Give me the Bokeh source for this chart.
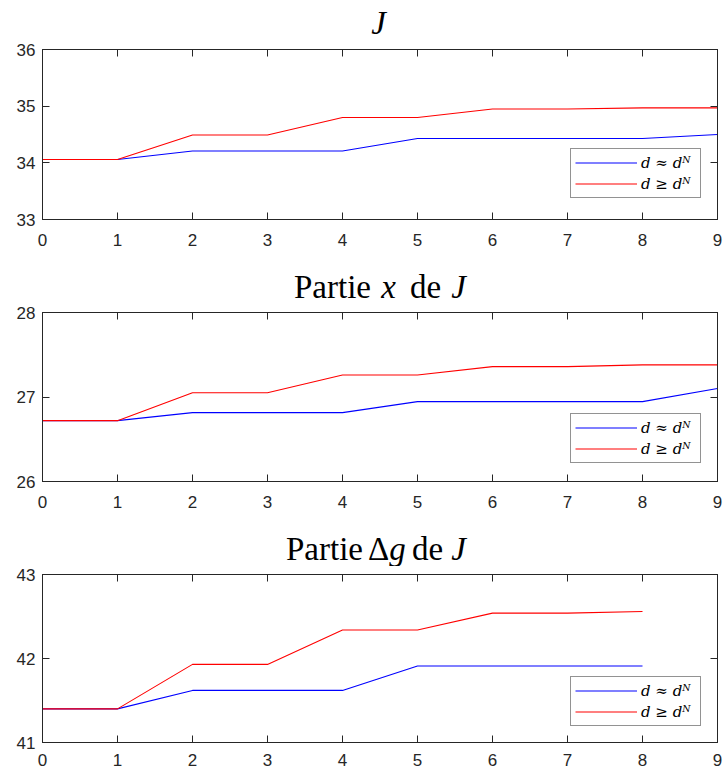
from bokeh.plotting import figure
from bokeh.layouts import column
from bokeh.models import (Range1d, FixedTicker, LinearAxis, Legend, LegendItem,
                          CustomJSTickFormatter)
from bokeh.core.properties import value
from bokeh.embed import file_html
from bokeh.resources import INLINE

# ---------------- data ----------------
iter_full = [0, 1, 2, 3, 4, 5, 6, 7, 8, 9]
iter_short = [0, 1, 2, 3, 4, 5, 6, 7, 8]

J_approx = [34.06, 34.06, 34.21, 34.21, 34.21, 34.43, 34.43, 34.43, 34.43, 34.50]
J_geq = [34.06, 34.06, 34.49, 34.49, 34.80, 34.80, 34.95, 34.95, 34.97, 34.97]

Jx_approx = [26.72, 26.72, 26.815, 26.815, 26.815, 26.945, 26.945, 26.945, 26.945, 27.10]
Jx_geq = [26.72, 26.72, 27.05, 27.05, 27.26, 27.26, 27.36, 27.36, 27.38, 27.38]

Jg_approx = [41.40, 41.40, 41.62, 41.62, 41.62, 41.91, 41.91, 41.91, 41.91]
Jg_geq = [41.40, 41.40, 41.93, 41.93, 42.34, 42.34, 42.54, 42.54, 42.56]

x_ticks = [0, 1, 2, 3, 4, 5, 6, 7, 8, 9]
y_ticks_J = [33, 34, 35, 36]
y_ticks_Jx = [26, 27, 28]
y_ticks_Jg = [41, 42, 43]

label_approx = "d ≈ dᴺ"
label_geq = "d ≥ dᴺ"

title_J = [("J", "italic")]
title_Jx = [("Partie", "normal"), ("x", "italic"), ("de", "normal"), ("J", "italic")]
title_Jg = [("Partie", "normal"), ("Δ", "normal"), ("g", "italic"),
            ("de", "normal"), ("J", "italic")]

AX = "#262626"
W = 724
FRAME_W = 675


def make_title(parts, centers, height, mid):
    t = figure(width=W, height=height, output_backend="svg", toolbar_location=None,
               x_range=Range1d(0, FRAME_W), y_range=Range1d(0, height),
               x_axis_type=None, y_axis_type=None,
               min_border_left=42, min_border_right=7,
               min_border_top=0, min_border_bottom=0,
               background_fill_color="white", border_fill_color="white")
    t.grid.visible = False
    t.outline_line_color = None
    for (text, style), x in zip(parts, centers):
        t.text(x=[x], y=[mid], text=[text], text_font=value("Liberation Serif"),
               text_font_style=style, text_font_size="33px", text_color="#000000",
               text_align="center", text_baseline="middle")
    return t


def make_panel(xs, y_a, y_g, yticks, height, top, bottom, standoff, legend_y):
    p = figure(width=W, height=height, output_backend="svg", toolbar_location=None,
               x_range=Range1d(0, 9), y_range=Range1d(yticks[0], yticks[-1]),
               min_border_left=42, min_border_right=7,
               min_border_top=top, min_border_bottom=bottom,
               background_fill_color="white", border_fill_color="white")
    p.xgrid.visible = False
    p.ygrid.visible = False
    p.outline_line_color = AX
    p.outline_line_width = 1

    for ax, ticks in ((p.xaxis[0], x_ticks), (p.yaxis[0], yticks)):
        ax.ticker = FixedTicker(ticks=ticks)
        ax.major_tick_in = 7
        ax.major_tick_out = 0
        ax.minor_tick_in = 0
        ax.minor_tick_out = 0
        ax.axis_line_color = AX
        ax.major_tick_line_color = AX
        ax.major_label_text_font = "Liberation Sans"
        ax.major_label_text_font_size = "17px"
        ax.major_label_text_color = AX
    p.xaxis[0].major_label_standoff = standoff
    p.yaxis[0].major_label_standoff = 7

    # box ticks on top and right (no labels)
    for side, ticks in (("above", x_ticks), ("right", yticks)):
        ax = LinearAxis(ticker=FixedTicker(ticks=ticks),
                        formatter=CustomJSTickFormatter(code="return ''"),
                        major_tick_in=7, major_tick_out=0, minor_tick_in=0,
                        minor_tick_out=0, major_label_standoff=0,
                        major_label_text_font_size="2px",
                        axis_line_color=AX, major_tick_line_color=AX)
        p.add_layout(ax, side)

    r1 = p.line(xs, y_a, line_color="#0000ff", line_width=1.1)
    r2 = p.line(xs, y_g, line_color="#ff0000", line_width=1.1)

    legend = Legend(items=[LegendItem(label=label_approx, renderers=[r1]),
                           LegendItem(label=label_geq, renderers=[r2])],
                    location=(528, legend_y),
                    label_text_font="DejaVu Serif", label_text_font_style="italic",
                    label_text_font_size="15px", label_text_color="#000000",
                    glyph_width=62, glyph_height=19, label_height=19, label_width=55,
                    label_standoff=4, spacing=2, padding=4, margin=0,
                    border_line_color=AX, border_line_width=1,
                    background_fill_color="white", background_fill_alpha=1)
    p.add_layout(legend, "center")
    return p


t1 = make_title(title_J, [336], 41, 19)
p1 = make_panel(iter_full, J_approx, J_geq, y_ticks_J, 224, 8, 46, 14, 21)
t2 = make_title(title_Jx, [290, 346, 383, 416], 39, 18)
p2 = make_panel(iter_full, Jx_approx, Jx_geq, y_ticks_Jx, 223, 8, 46, 14, 18)
t3 = make_title(title_Jg, [282, 336, 355, 385, 416], 39, 18)
p3 = make_panel(iter_short, Jg_approx, Jg_geq, y_ticks_Jg, 205, 8, 29, 11, 16)

layout = column(t1, p1, t2, p2, t3, p3, spacing=0)
open("out.html", "w").write(file_html(layout, INLINE))
